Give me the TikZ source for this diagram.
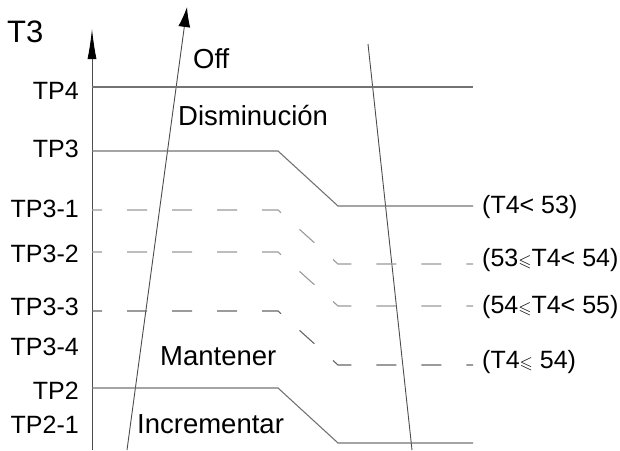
\documentclass[tikz,border=0pt]{standalone}
\usepackage{fontspec}
\setmainfont{Liberation Sans}
\usepackage{amssymb}
\usetikzlibrary{arrows.meta}

\newcommand{\lsl}{{\fontsize{17}{17}\selectfont$\leqslant$}}

\begin{document}
\begin{tikzpicture}[x=1pt,y=-1pt,
	axisline/.style={draw=black!70,line width=0.9pt},
	level/.style={draw=black!55,line width=1.1pt},
	sublevel/.style={draw=black!40,line width=1.1pt,dash pattern=on 20pt off 25pt,dash phase=10pt},
	tpname/.style={anchor=base east,font=\fontsize{25}{25}\selectfont},
	zonename/.style={anchor=base west,font=\fontsize{27.5}{28}\selectfont},
	condname/.style={anchor=base west,font=\fontsize{25}{25}\selectfont}]
	\tikzstyle{every node}+=[inner sep=0pt]
	\useasboundingbox (0,0) rectangle (620,450);
	% axes
	\coordinate (o) at (92,450);
	\coordinate (otop) at (92,29);
	\coordinate (s) at (127,450);
	\coordinate (stop) at (187,7);
	\coordinate (r) at (368,44);
	\coordinate (rbot) at (412,450);
	\draw [axisline,-{Latex[length=30pt,width=9pt,color=black]}] (o) -- (otop);
	\draw [axisline,-{Latex[length=20pt,width=12pt,color=black]}] (s) -- (stop);
	\draw [axisline] (r) -- (rbot);
	\node [anchor=base west,font=\fontsize{31}{31}\selectfont] (t3) at (7,42) {T3};
	% levels
	\coordinate (tp4) at (92,87);
	\coordinate (tp3) at (92,151);
	\coordinate (tp31) at (92,210);
	\coordinate (tp32) at (92,252);
	\coordinate (tp33) at (92,311);
	\coordinate (tp2) at (92,388);
	\draw [level] (tp4) -- (473,87);
	\draw [level] (tp3) -- (278,151) -- (338,206) -- (473,206);
	\draw [sublevel] (tp31) -- (278,210) -- (338,264) -- (473,264);
	\draw [sublevel] (tp32) -- (278,252) -- (338,306) -- (473,306);
	\draw [sublevel,draw=black!60] (tp33) -- (278,311) -- (338,365) -- (473,365);
	\draw [level] (tp2) -- (278,388) -- (338,443) -- (473,443);
	% level names
	\node [tpname] (ltp4) at (79,99) {TP4};
	\node [tpname] (ltp3) at (79,157) {TP3};
	\node [tpname] (ltp31) at (79,217) {TP3-1};
	\node [tpname] (ltp32) at (79,262) {TP3-2};
	\node [tpname] (ltp33) at (79,315) {TP3-3};
	\node [tpname] (ltp34) at (79,355) {TP3-4};
	\node [tpname] (ltp2) at (79,399) {TP2};
	\node [tpname] (ltp21) at (79,433) {TP2-1};
	% zones
	\node [zonename] (off) at (193,68.5) {Off};
	\node [zonename] (dism) at (178,125) {Disminución};
	\node [zonename] (mant) at (160,365) {Mantener};
	\node [zonename] (incr) at (137,433) {Incrementar};
	% T4 conditions
	\node [condname] (c1) at (482,213) {(T4< 53)};
	\node [condname] (c2) at (482,266) {(53\lsl T4< 54)};
	\node [condname] (c3) at (482,313) {(54\lsl T4< 55)};
	\node [condname] (c4) at (482,368) {(T4\lsl\ 54)};
\end{tikzpicture}
\end{document}
